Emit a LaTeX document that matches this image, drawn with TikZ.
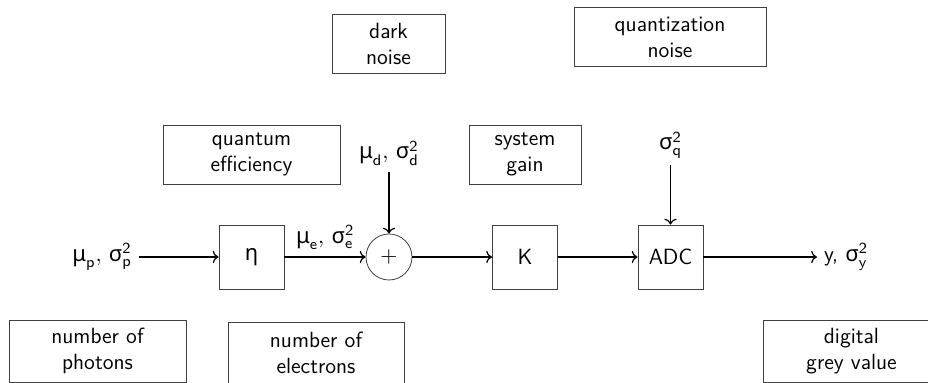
\documentclass[tikz,border=0pt]{standalone}
\usepackage{amsmath}
\usepackage{fontspec}
\newfontfamily\greekfont{Noto Sans}
\renewcommand{\familydefault}{\sfdefault}
\usepackage{tikz}
\usetikzlibrary{positioning, arrows.meta}
\newcommand{\gr}[1]{\text{\greekfont #1}}

\begin{document}
\begin{tikzpicture}[x=0.5pt, y=-0.5pt,
                  font=\fontsize{11}{13}\selectfont,
                  descr/.style={draw=black!75, thin, align=center, inner sep=2pt,
                              minimum height=29.5pt},
                  blk/.style={draw=black!75, thin, minimum width=32.5pt, minimum height=32pt},
                  sum/.style={circle, draw=black!75, thin, minimum size=23pt, inner sep=0pt},
                  arr/.style={->, semithick},
            ]
            \useasboundingbox (0,0) rectangle (928,383);
            \clip (0,0) rectangle (928,383);

            % Description boxes
            \node[descr, minimum width=56.5pt] (dark) at (388.5,44) {dark\\noise};
            \node[descr, minimum width=96pt] (quant) at (670,37) {quantization\\noise};
            \node[descr, minimum width=88.5pt] (qe) at (251.5,154.5) {quantum\\efficiency};
            \node[descr, minimum width=56pt] (gain) at (525,154.5) {system\\gain};
            \node[descr, minimum width=88.5pt, minimum height=31pt] (photons) at (97.5,351) {number of\\photons};
            \node[descr, minimum width=88pt, minimum height=31pt] (electrons) at (316,353) {number of\\electrons};
            \node[descr, minimum width=88.5pt, minimum height=31pt] (grey) at (851.5,351) {digital\\grey value};

            % Signal chain
            \node[blk] (eta) at (251.5,257) {$\gr{η}$};
            \node[sum] (add) at (389,257) {$+$};
            \node[blk] (K) at (525,257) {K};
            \node[blk] (adc) at (670.5,257) {ADC};

            \node[anchor=east] (in) at (139,257)
            {$\gr{μ}_{\mathsf{p}},\,\gr{σ}^{\mathsf{2}}_{\mathsf{p}}$};
            \node[anchor=west] (out) at (817,257)
            {y,\ $\gr{σ}^{\mathsf{2}}_{\mathsf{y}}$};
            \node[above left=2.5pt and 4.5pt of add.west, anchor=south east, inner sep=1pt] (mue)
            {$\gr{μ}_{\mathsf{e}},\,\gr{σ}^{\mathsf{2}}_{\mathsf{e}}$};
            \node (mud) at (389,153) {$\gr{μ}_{\mathsf{d}},\,\gr{σ}^{\mathsf{2}}_{\mathsf{d}}$};
            \node (sq) at (670.5,145) {$\gr{σ}^{\mathsf{2}}_{\mathsf{q}}$};

            % Connectors
            \draw[arr] (in) -- (eta);
            \draw[arr] (eta) -- (add);
            \draw[arr] (add) -- (K);
            \draw[arr] (K) -- (adc);
            \draw[arr] (adc) -- (out);
            \draw[arr] (mud) -- (add);
            \draw[arr] (sq) -- (adc);
\end{tikzpicture}
\end{document}
